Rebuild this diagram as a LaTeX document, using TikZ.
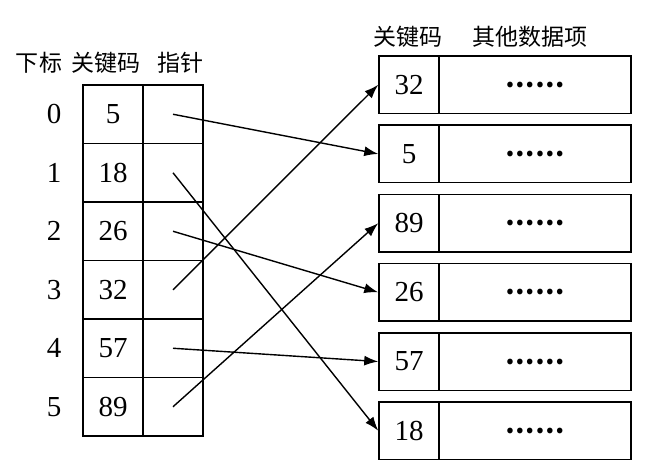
\documentclass[tikz,border=0pt]{standalone}
\usepackage{fontspec}
\setmainfont{Liberation Serif}
\newfontfamily\cjk{Noto Sans CJK SC}
\usetikzlibrary{positioning,arrows.meta}

\tikzset{
    cell/.style={draw, line width=1.5pt, inner sep=0pt,
        font=\fontsize{29}{29}\selectfont},
    lkey/.style={cell, minimum width=60pt, minimum height=58.5pt},
    lptr/.style={cell, minimum width=60pt, minimum height=58.5pt},
    rkey/.style={cell, minimum width=60pt, minimum height=57.5pt},
    rdata/.style={cell, minimum width=192pt, minimum height=57.5pt,
        font=\cjk\bfseries\fontsize{26}{26}\selectfont},
    idx/.style={font=\fontsize{29}{29}\selectfont},
    head/.style={font=\cjk\fontsize{23}{23}\selectfont},
    ptr/.style={line width=1.4pt, -{Latex[length=14pt,width=10pt]}}
}

\begin{document}
\begin{tikzpicture}[x=1pt,y=-1pt]
    \useasboundingbox (0,0) rectangle (660,474);

    % headers
    \node[head] (hidx) at (39,63) {下标};
    \node[head] (hkey) at (106,63) {关键码};
    \node[head] (hptr) at (180,63) {指针};
    \node[head] (hrkey) at (408,37) {关键码};
    \node[head] (hrdata) at (530,37) {其他数据项};

    % index table
    \foreach \k [count=\i from 0] in {5,18,26,32,57,89} {
        \node[idx] (idx\i) at (54,114.25+58.5*\i) {\i};
        \node[lkey] (lk\i) at (113,114.25+58.5*\i) {\k};
        \node[lptr] (lp\i) at (173,114.25+58.5*\i) {};
    }

    % records
    \foreach \k [count=\i from 0] in {32,5,89,26,57,18} {
        \node[rkey] (rk\k) at (409,84.75+69.2*\i) {\k};
        \node[rdata] (rd\k) at (535,84.75+69.2*\i) {……};
    }

    % pointers
    \foreach \i/\k in {0/5,1/18,2/26,3/32,4/57,5/89}
        \draw[ptr] (lp\i.center) -- (rk\k.west);
\end{tikzpicture}
\end{document}
